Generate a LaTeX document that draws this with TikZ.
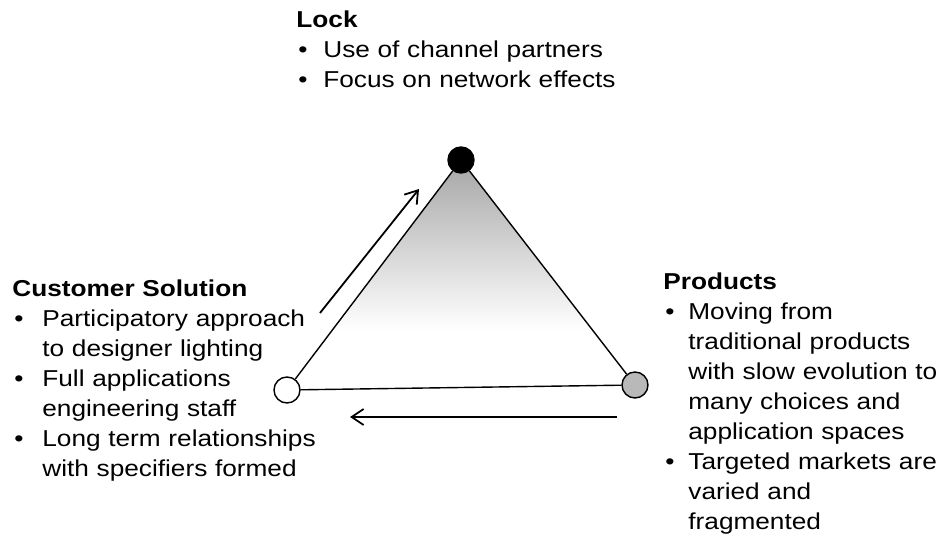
\documentclass[tikz,border=0pt]{standalone}
\usepackage{fontspec}
\setmainfont{Liberation Sans}[FakeStretch=1.14]
\usetikzlibrary{arrows.meta,backgrounds}
\newlength\bind
\newcommand{\bitem}[1]{\par\hangindent=\bind\hangafter=1\noindent\makebox[\bind][l]{\hspace{1pt}\textbullet}#1\par}
\newcommand{\nl}{\newline}
\begin{document}
\begin{tikzpicture}[x=0.5pt, y=-0.5pt,
  every node/.style={font=\fontsize{11.5}{15}\selectfont},
  txt/.style={anchor=base west, inner sep=0pt, align=left, text width=#1},
  corner/.style={circle, draw, line width=0.7pt, minimum size=13pt, inner sep=0pt},
  flow/.style={-{Straight Barb[length=6pt, width=8pt]}, line width=0.9pt}]
  \useasboundingbox (0,0) rectangle (950,540);
  % corners of the triangle
  \node[corner, fill=black] (lock) at (461,160) {};
  \node[corner, fill=white] (sol) at (287,390) {};
  \node[corner, fill=gray!55] (prod) at (635,385) {};
  \begin{scope}[on background layer]
    \clip (lock.center) -- (sol.center) -- (prod.center) -- cycle;
    \shade[top color=gray!70, middle color=gray!40, bottom color=white] (250,160) rectangle (660,330);
  \end{scope}
  \draw[line width=0.7pt] (lock) -- (sol) (sol) -- (prod) (prod) -- (lock);
  % direction arrows
  \coordinate (up1) at (320,313);
  \coordinate (up2) at (419,189);
  \coordinate (back1) at (617,417);
  \coordinate (back2) at (350,417);
  \draw[flow] (up1) -- (up2);
  \draw[flow] (back1) -- (back2);
  % texts
  \node[txt=200pt] (locktxt) at (296,28) {\textbf{Lock}\setlength\bind{13.5pt}
    \bitem{Use of channel partners}
    \bitem{Focus on network effects}};
  \node[txt=200pt] (soltxt) at (12,297) {\textbf{Customer Solution}\setlength\bind{15pt}
    \bitem{Participatory approach\nl to designer lighting}
    \bitem{Full applications\nl engineering staff}
    \bitem{Long term relationships\nl with specifiers formed}};
  \node[txt=200pt] (prodtxt) at (663,290) {\textbf{Products}\setlength\bind{12.5pt}
    \bitem{Moving from\nl traditional products\nl with slow evolution to\nl many choices and\nl application spaces}
    \bitem{Targeted markets are\nl varied and\nl fragmented}};
\end{tikzpicture}
\end{document}
